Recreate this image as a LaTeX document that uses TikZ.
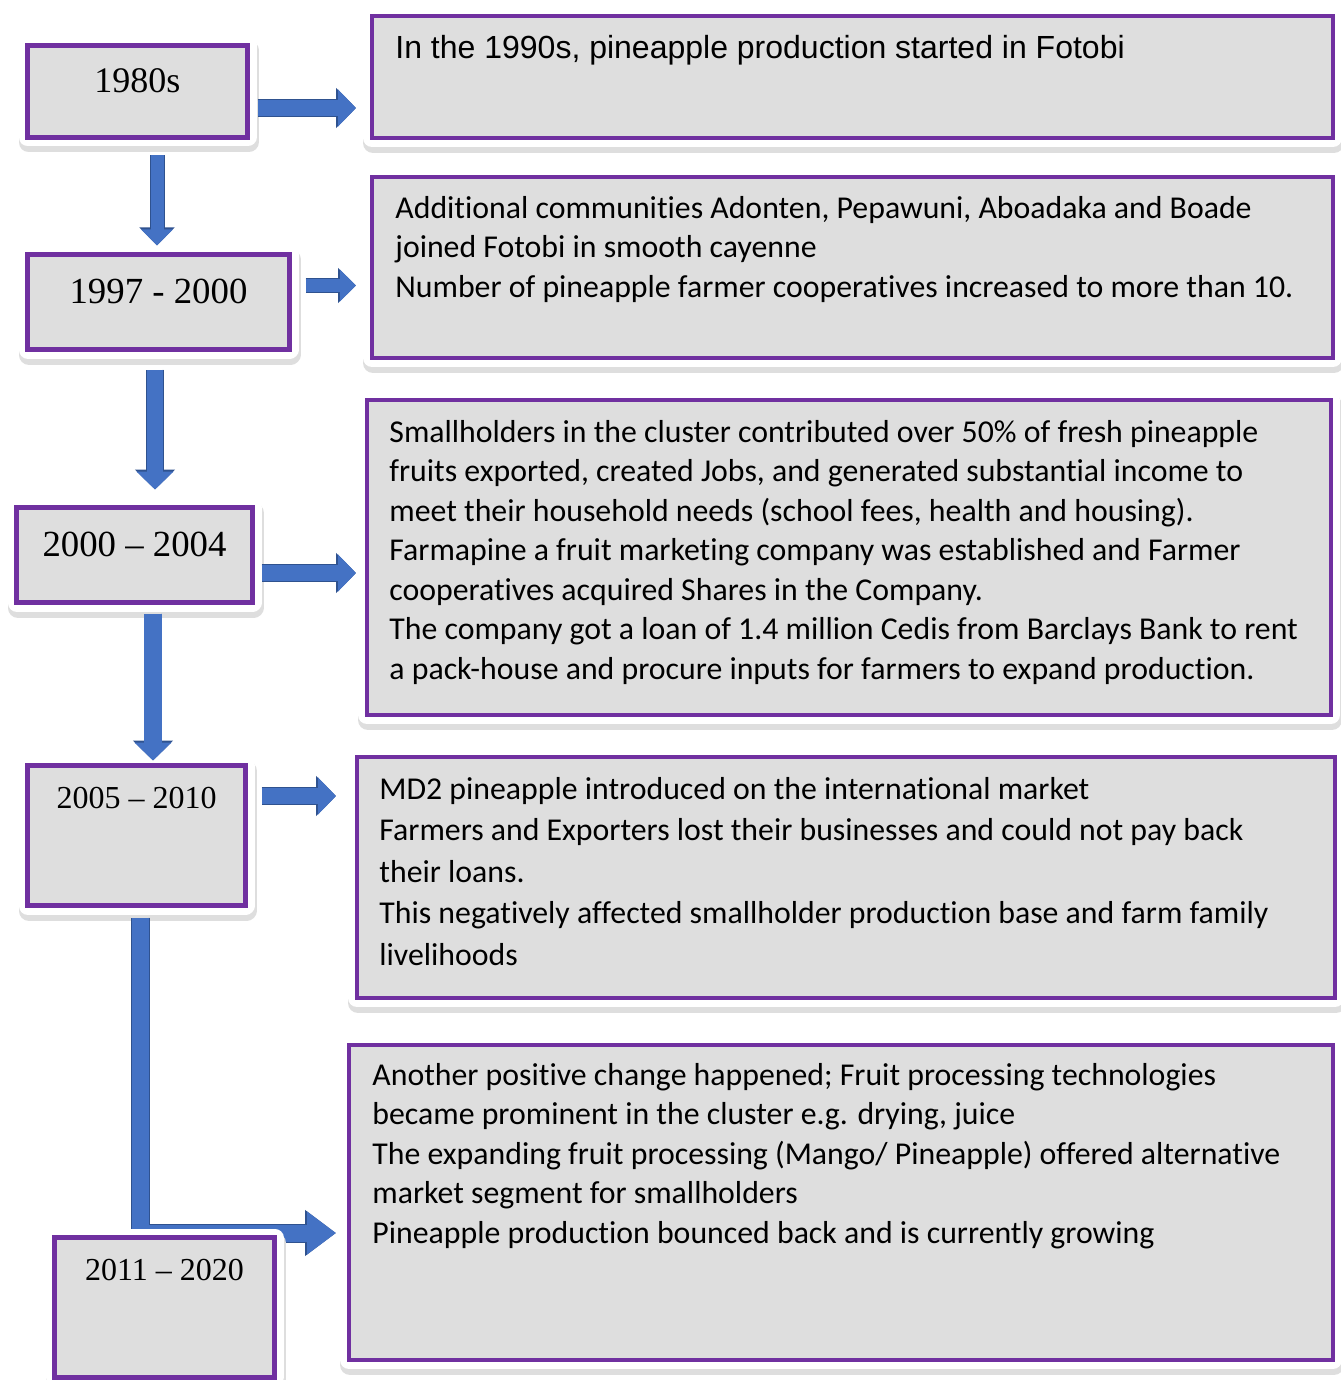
\documentclass[tikz,border=0pt]{standalone}
\usepackage{fontspec}
\setmainfont{Liberation Serif}
\newfontfamily\calibrifont{Carlito}[Ligatures=NoCommon, RawFeature={-liga;-clig;-calt;-dlig}]
\newfontfamily\arialfont{Liberation Sans}
\usetikzlibrary{arrows.meta, positioning, calc, fit}

\definecolor{boxgray}{HTML}{DEDEDE}
\definecolor{boxpurple}{HTML}{7030A0}
\definecolor{arrowblue}{HTML}{4472C4}
\definecolor{arrowedge}{HTML}{2F528F}

\tikzset{
  framebox/.style={draw=boxpurple, line width=#1, fill=boxgray, inner sep=0pt,
    preaction={draw=black!13, line width=10pt, line join=round, transform canvas={xshift=0.5pt, yshift=-2.5pt}},
    preaction={draw=white, line width=9pt, line join=round}},
  framebox/.default=2pt,
  yearlbl/.style={font=\fontsize{18.4}{22}\selectfont, inner sep=0pt, anchor=base},
  eventtxt/.style={font=\calibrifont\fontsize{15.9}{19.75}\selectfont, align=left, inner sep=0pt, anchor=north west},
  flow/.style={draw=arrowblue, line width=8pt, -{Triangle[width=18pt,length=9pt]},
    preaction={draw=arrowedge, line width=9pt, -{Triangle[width=19.6pt,length=10pt]}}},
  thinflow/.style={draw=arrowblue, line width=6.5pt, -{Triangle[width=15.5pt,length=8pt]},
    preaction={draw=arrowedge, line width=7.5pt, -{Triangle[width=17pt,length=9pt]}}},
  bigflow/.style={draw=arrowblue, line width=8.5pt, -{Triangle[width=20.5pt,length=14.5pt]},
    preaction={draw=arrowedge, line width=9.5pt, -{Triangle[width=22pt,length=15.5pt]}}}
}

\begin{document}
\begin{tikzpicture}[x=0.5pt, y=-0.5pt]
\useasboundingbox (0,0) rectangle (1340,1380);

% Year boxes on the left
\node[framebox=2.5pt, fit={(27.5,45.5) (247.5,137.5)}] (p1) {};
\node[framebox=2.5pt, fit={(27.5,254.5) (289.5,349.5)}] (p2) {};
\node[framebox=2.5pt, fit={(16.5,507.5) (252.5,602.5)}] (p3) {};
\node[framebox=2.5pt, fit={(27.5,765.5) (245.5,905.5)}] (p4) {};

% Event boxes on the right
\node[framebox, fit={(372,16) (1333,138)}] (e1) {};
\node[framebox, fit={(372,177) (1333,358)}] (e2) {};
\node[framebox, fit={(367,400) (1331,715)}] (e3) {};
\node[framebox, fit={(357,757) (1335,998)}] (e4) {};
\node[framebox, fit={(349,1045) (1333,1360)}] (e5) {};

% Years
\node[yearlbl, font=\fontsize{18}{22}\selectfont] (y1) at (137.5,93) {1980s};
\node[yearlbl] (y2) at (158.5,303) {1997 - 2000};
\node[yearlbl] (y3) at (134.5,556) {2000 – 2004};
\node[yearlbl, font=\fontsize{16}{20}\selectfont] (y4) at (136.5,808) {2005 – 2010};

% Event texts
\node[eventtxt, font=\arialfont\fontsize{16}{19.75}\selectfont] (t1) at (395,30)
  {\strut In the 1990s, pineapple production started in Fotobi};
\node[eventtxt] (t2) at (395,190)
  {\strut Additional communities Adonten, Pepawuni, Aboadaka and Boade\\
   joined Fotobi in smooth cayenne\\
   Number of pineapple farmer cooperatives increased to more than 10.};
\node[eventtxt] (t3) at (389,414)
  {\strut Smallholders in the cluster contributed over 50\% of fresh pineapple\\
   fruits exported, created Jobs, and generated substantial income to\\
   meet their household needs (school fees, health and housing).\\
   Farmapine a fruit marketing company was established and Farmer\\
   cooperatives acquired Shares in the Company.\\
   The company got a loan of 1.4 million Cedis from Barclays Bank to rent\\
   a pack-house and procure inputs for farmers to expand production.};
\node[eventtxt, font=\calibrifont\fontsize{15.9}{20.75}\selectfont] (t4) at (379,770)
  {\strut MD2 pineapple introduced on the international market\\
   Farmers and Exporters lost their businesses and could not pay back\\
   their loans.\\
   This negatively affected smallholder production base and farm family\\
   livelihoods};
\node[eventtxt] (t5) at (372,1057)
  {\strut Another positive change happened; Fruit processing technologies\\
   became prominent in the cluster e.g. drying, juice\\
   The expanding fruit processing (Mango/ Pineapple) offered alternative\\
   market segment for smallholders\\
   Pineapple production bounced back and is currently growing};

% Arrows to the events
\draw[flow] ($(p1.east)+(7.5,16.5)$) -- ($(e1.west |- p1.east)+(-14,16.5)$);
\draw[thinflow] ($(p2.east)+(13.5,-16.5)$) -- ($(e2.west |- p2.east)+(-14,-16.5)$);
\draw[flow] ($(p3.east)+(6.5,18)$) -- ($(e3.west |- p3.east)+(-9,18)$);
\draw[flow] ($(p4.east)+(13.5,-39.5)$) -- ($(e4.west |- p4.east)+(-19,-39.5)$);

% Arrows down the time line
\draw[thinflow] ($(p1.south)+(19.5,15.5)$) -- ($(p1.south |- p2.north)+(19.5,-6.5)$);
\draw[flow] ($(p2.south)+(-3.5,17.5)$) -- ($(p2.south |- p3.north)+(-3.5,-15.5)$);
\draw[flow, line width=9pt] ($(p3.south)+(18.5,8.5)$) -- ($(p3.south |- p4.north)+(18.5,-2.5)$);
\draw[bigflow] ($(p4.south)+(3.5,9.5)$) |- ($(e5.west)+(-11,30.5)$);

% Last year box sits on the bent arrow
\node[framebox=2.5pt, fit={(54.5,1237.5) (274.5,1377)}] (p5) {};
\node[yearlbl, font=\fontsize{16}{20}\selectfont] (y5) at (164.5,1280) {2011 – 2020};
\end{tikzpicture}
\end{document}
